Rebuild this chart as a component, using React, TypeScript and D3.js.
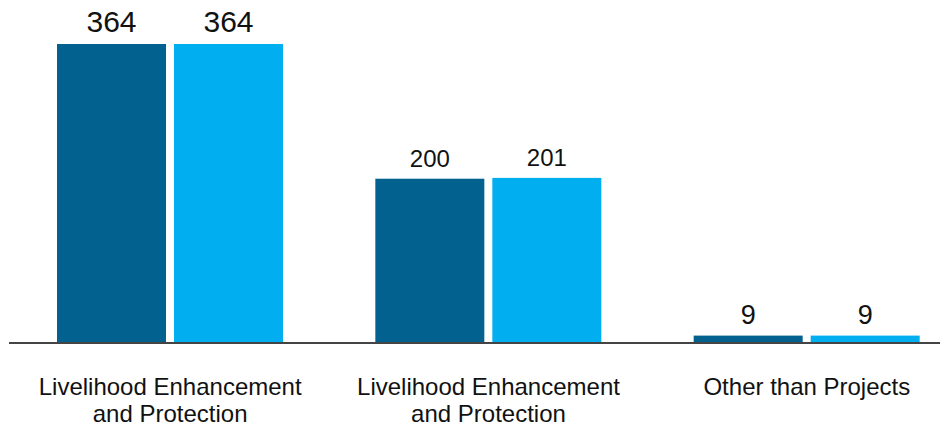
import React from "react";
import * as d3 from "d3";

const categories = ["Livelihood Enhancement\nand Protection", "Livelihood Enhancement\nand Protection", "Other than Projects"];
const seriesNames = ["Series A", "Series B"];
const seriesA = [364, 200, 9];
const seriesB = [364, 201, 9];
const colors = ["#02618f", "#01aeef"];
const valueFontSizes = [30, 24, 27];

export default function App() {
  const width = 940;
  const height = 434;
  const baseline = 343;
  const x0 = d3.scaleBand<number>().domain(d3.range(categories.length)).range([11, 966]).paddingInner(0).paddingOuter(0);
  const x1 = d3.scaleBand<number>().domain([0, 1]).range([46, 272]).paddingInner(0.0684);
  const y = d3.scaleLinear().domain([0, 364]).range([baseline, 44]);
  const series = [seriesA, seriesB];
  const font = "'Liberation Sans', Arial, Helvetica, sans-serif";
  return (
    <svg width={width} height={height} style={{ position: "absolute", left: 0, top: 0 }}>
      {categories.map((c, i) => {
        const cx = x0.bandwidth() / 2;
        return (
          <g key={i} transform={`translate(${x0(i)},0)`}>
            {series.map((s, j) => (
              <g key={j}>
                <rect x={x1(j)} y={y(s[i])} width={x1.bandwidth()} height={baseline - y(s[i])} fill={colors[j]} />
                <text
                  x={(x1(j) as number) + x1.bandwidth() / 2}
                  y={y(s[i]) - 12}
                  textAnchor="middle"
                  fontFamily={font}
                  fontSize={valueFontSizes[i]}
                  fill="#111"
                >
                  {s[i]}
                </text>
              </g>
            ))}
            <text x={cx} y={395} textAnchor="middle" fontFamily={font} fontSize={24} fill="#111">
              {c.split("\n").map((line, k) => (
                <tspan key={k} x={cx} dy={k === 0 ? 0 : 27}>{line}</tspan>
              ))}
            </text>
          </g>
        );
      })}
      <line x1={9} x2={940} y1={343} y2={343} stroke="#444" strokeWidth={2} />
    </svg>
  );
}
